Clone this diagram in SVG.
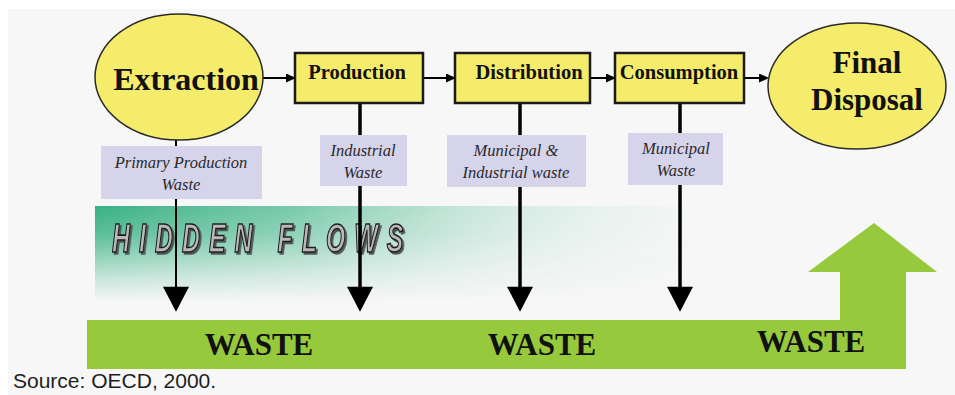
<svg xmlns="http://www.w3.org/2000/svg" width="955" height="395" viewBox="0 0 955 395">
  <defs>
    <style>
      .node { fill: #f5ec6b; stroke: #1a1a1a; stroke-width: 2.5; }
      .ell { fill: #f5ec6b; stroke: #2a2a2a; stroke-width: 1.5; }
      .ntext { font-family: "Liberation Serif", "Times New Roman", serif; font-weight: bold; fill: #111; text-anchor: middle; }
      .lbl { fill: #d6d4eb; }
      .ltext { font-family: "Liberation Serif", "Times New Roman", serif; font-style: italic; font-size: 16.5px; fill: #2a2a2a; text-anchor: middle; }
      .waste { font-family: "Liberation Serif", "Times New Roman", serif; font-weight: bold; font-size: 31px; fill: #111; text-anchor: middle; }
      .flow { stroke: #000; fill: none; }
      .thin { stroke: #000; stroke-width: 2; fill: none; }
    </style>
    <marker id="big" markerUnits="userSpaceOnUse" markerWidth="26" markerHeight="26" refX="8" refY="12.5" orient="auto" viewBox="0 0 24 25">
      <path d="M0,0 L24,12.5 L0,25 z" fill="#000"/>
    </marker>
    <marker id="small" markerUnits="userSpaceOnUse" markerWidth="10" markerHeight="9" refX="5" refY="4.5" orient="auto" viewBox="0 0 10 9">
      <path d="M0,0 L10,4.5 L0,9 z" fill="#000"/>
    </marker>
    <linearGradient id="hgrad" x1="0" y1="0" x2="1" y2="0">
      <stop offset="0" stop-color="#35b083" stop-opacity="1"/>
      <stop offset="0.35" stop-color="#52bc94" stop-opacity="0.75"/>
      <stop offset="0.7" stop-color="#9fd8c2" stop-opacity="0.4"/>
      <stop offset="1" stop-color="#d8efe6" stop-opacity="0.15"/>
    </linearGradient>
    <linearGradient id="vgrad" x1="0" y1="0" x2="0" y2="1">
      <stop offset="0" stop-color="#fff" stop-opacity="1"/>
      <stop offset="0.3" stop-color="#fff" stop-opacity="0.8"/>
      <stop offset="0.75" stop-color="#fff" stop-opacity="0.25"/>
      <stop offset="1" stop-color="#fff" stop-opacity="0"/>
    </linearGradient>
    <mask id="vmask" maskUnits="userSpaceOnUse" x="95" y="206" width="590" height="96">
      <rect x="95" y="206" width="590" height="96" fill="url(#vgrad)"/>
    </mask>
    <filter id="shadow" x="-10%" y="-30%" width="120%" height="160%">
      <feDropShadow dx="3" dy="2" stdDeviation="0.4" flood-color="#4a4a4a" flood-opacity="0.9"/>
    </filter>
  </defs>

  <rect x="0" y="0" width="955" height="395" fill="#ffffff"/>
  <rect x="8" y="9" width="947" height="386" fill="#f7f7f7"/>

  <g id="hidden-flows">
    <rect x="95" y="206" width="590" height="96" fill="url(#hgrad)" mask="url(#vmask)"/>
    <g transform="translate(112,252) scale(0.62,1)">
      <text x="0" y="0" textLength="470" lengthAdjust="spacing" font-family="Liberation Sans, Arial, sans-serif" font-weight="bold" font-style="italic" font-size="40" fill="#b9b9b9" stroke="#1c1c1c" stroke-width="1.6" filter="url(#shadow)">HIDDEN FLOWS</text>
    </g>
  </g>

  <g id="waste-bar">
    <polygon points="87,320 840,320 840,272 808,272 874,223 937,272 906,272 906,369 87,369" fill="#97c93c"/>
    <text class="waste" x="259" y="355">WASTE</text>
    <text class="waste" x="542" y="355">WASTE</text>
    <text class="waste" x="811" y="352">WASTE</text>
  </g>

  <g id="connectors">
    <line class="flow" x1="263" y1="78" x2="291" y2="78" stroke-width="2" marker-end="url(#small)"/>
    <line class="flow" x1="423" y1="78" x2="451" y2="78" stroke-width="2" marker-end="url(#small)"/>
    <line class="flow" x1="590" y1="78" x2="611" y2="78" stroke-width="2" marker-end="url(#small)"/>
    <line class="flow" x1="744" y1="78" x2="764" y2="78" stroke-width="2" marker-end="url(#small)"/>
    <line class="flow" x1="176" y1="140" x2="176" y2="295" stroke-width="2" marker-end="url(#big)"/>
    <line class="flow" x1="360" y1="103" x2="360" y2="295" stroke-width="3.5" marker-end="url(#big)"/>
    <line class="flow" x1="520" y1="103" x2="520" y2="295" stroke-width="3.5" marker-end="url(#big)"/>
    <line class="flow" x1="680" y1="103" x2="680" y2="295" stroke-width="3.5" marker-end="url(#big)"/>
  </g>

  <g id="extraction">
    <ellipse class="ell" cx="179" cy="77" rx="84" ry="63"/>
    <text class="ntext" x="186" y="90" font-size="32">Extraction</text>
  </g>
  <g id="production">
    <rect class="node" x="295" y="53" width="128" height="50"/>
    <text class="ntext" x="357" y="79" font-size="20.5">Production</text>
  </g>
  <g id="distribution">
    <rect class="node" x="455" y="53" width="135" height="50"/>
    <text class="ntext" x="529" y="79" font-size="20.5">Distribution</text>
  </g>
  <g id="consumption">
    <rect class="node" x="615" y="53" width="129" height="50"/>
    <text class="ntext" x="679" y="79" font-size="20.5">Consumption</text>
  </g>
  <g id="final-disposal">
    <ellipse class="ell" cx="857" cy="86" rx="89" ry="63"/>
    <text class="ntext" x="867" y="73" font-size="31">Final</text>
    <text class="ntext" x="867" y="110" font-size="31">Disposal</text>
  </g>

  <g id="label-primary">
    <rect class="lbl" x="101" y="146" width="161" height="53"/>
    <text class="ltext" x="181" y="168">Primary Production</text>
    <text class="ltext" x="181" y="190">Waste</text>
  </g>
  <g id="label-industrial">
    <rect class="lbl" x="320" y="135" width="87" height="51"/>
    <text class="ltext" x="363" y="156">Industrial</text>
    <text class="ltext" x="363" y="178">Waste</text>
  </g>
  <g id="label-municipal-industrial">
    <rect class="lbl" x="447" y="135" width="139" height="52"/>
    <text class="ltext" x="516" y="156">Municipal &amp;</text>
    <text class="ltext" x="516" y="178">Industrial waste</text>
  </g>
  <g id="label-municipal">
    <rect class="lbl" x="628" y="133" width="95" height="52"/>
    <text class="ltext" x="676" y="154">Municipal</text>
    <text class="ltext" x="676" y="176">Waste</text>
  </g>

  <text x="13" y="388" font-family="Liberation Sans, Arial, sans-serif" font-size="21" fill="#1e1e1e">Source: OECD, 2000.</text>
</svg>
